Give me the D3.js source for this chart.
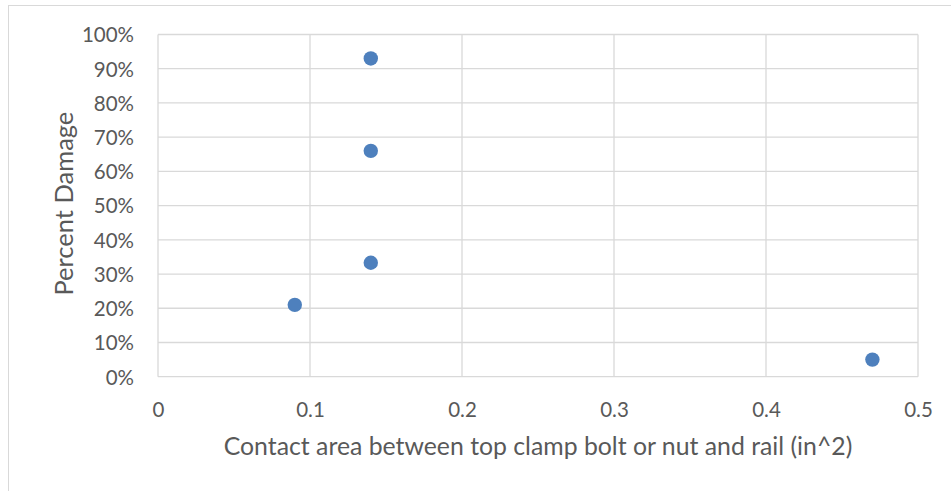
<!DOCTYPE html>
<html>
<head>
<meta charset="utf-8">
<script src="https://cdn.jsdelivr.net/npm/d3@7"></script>
<style>
  html, body { margin: 0; padding: 0; background: #fff; }
  svg { display: block; }
  text { font-family: Lato, "Open Sans", sans-serif; fill: #595959; }
</style>
</head>
<body>
<svg id="chart" width="951" height="491"></svg>
<script>
// Contact area (in^2) vs. percent damage
const contactArea = [0.14, 0.14, 0.14, 0.09, 0.47];
const percentDamage = [0.93, 0.66, 0.333, 0.21, 0.05];
const xTicks = [0, 0.1, 0.2, 0.3, 0.4, 0.5];
const yTicks = [0, 0.1, 0.2, 0.3, 0.4, 0.5, 0.6, 0.7, 0.8, 0.9, 1.0];
const xTitle = "Contact area between top clamp bolt or nut and rail (in^2)";
const yTitle = "Percent Damage";

const svg = d3.select("#chart");
const W = 951, H = 491;
const margin = { left: 158, right: W - 918, top: 34.5, bottom: H - 376.7 };

// chart frame
svg.append("rect")
  .attr("x", 8.5).attr("y", 5.5)
  .attr("width", 960).attr("height", 500)
  .attr("fill", "none").attr("stroke", "#d9d9d9").attr("stroke-width", 1);

const x = d3.scaleLinear().domain([0, 0.5]).range([margin.left, W - margin.right]);
const y = d3.scaleLinear().domain([0, 1]).range([H - margin.bottom, margin.top]);

const grid = svg.append("g");
grid.selectAll("line.h").data(yTicks).join("line")
  .attr("x1", x(0)).attr("x2", x(0.5))
  .attr("y1", d => y(d)).attr("y2", d => y(d))
  .attr("stroke", "#d9d9d9").attr("stroke-width", 1.3);
grid.selectAll("line.v").data(xTicks).join("line")
  .attr("y1", y(0)).attr("y2", y(1))
  .attr("x1", d => x(d)).attr("x2", d => x(d))
  .attr("stroke", "#d9d9d9").attr("stroke-width", 1.3);

// axes (labels only; lines come from the grid)
const xAxis = svg.append("g")
  .attr("transform", `translate(0,${y(0)})`)
  .call(d3.axisBottom(x).tickValues(xTicks).tickSize(0)
    .tickFormat(d => d === 0 ? "0" : d3.format(".1f")(d)));
xAxis.select(".domain").remove();
xAxis.selectAll("text")
  .attr("y", 33).attr("dy", "0.36em")
  .style("font-size", "20.5px").attr("fill", "#595959");

const yAxis = svg.append("g")
  .attr("transform", `translate(${x(0)},0)`)
  .call(d3.axisLeft(y).tickValues(yTicks).tickSize(0).tickPadding(24)
    .tickFormat(d3.format(".0%")));
yAxis.select(".domain").remove();
yAxis.selectAll("text")
  .attr("dy", "0.36em")
  .style("font-size", "20.5px").attr("fill", "#595959");

// points
svg.append("g").selectAll("circle")
  .data(contactArea.map((a, i) => ({ a, p: percentDamage[i] })))
  .join("circle")
  .attr("cx", d => x(d.a)).attr("cy", d => y(d.p))
  .attr("r", 7.2)
  .attr("fill", "#4e80bd");

// axis titles
svg.append("text")
  .attr("x", (x(0) + x(0.5)) / 2).attr("y", 446)
  .attr("text-anchor", "middle").attr("dy", "0.36em")
  .style("font-size", "24.8px")
  .text(xTitle);

svg.append("text")
  .attr("transform", `translate(64,${(y(0) + y(1)) / 2 - 2}) rotate(-90)`)
  .attr("text-anchor", "middle").attr("dy", "0.36em")
  .style("font-size", "25.5px")
  .text(yTitle);
</script>
</body>
</html>
